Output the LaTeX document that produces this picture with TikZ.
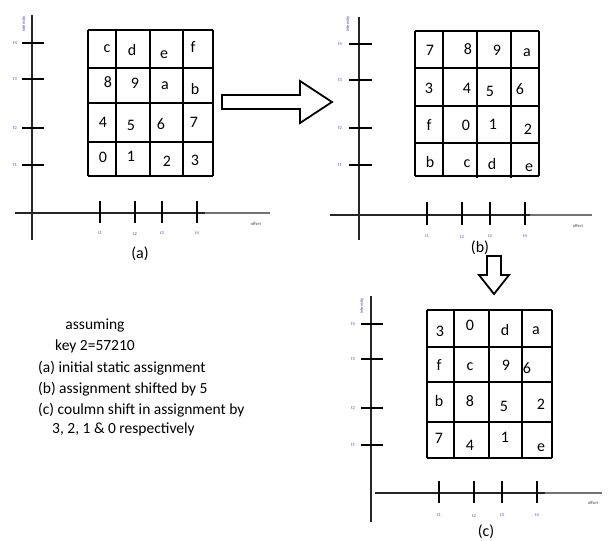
\documentclass[tikz,border=0pt]{standalone}
\usepackage{fontspec}
\setmainfont{Carlito}
\begin{document}
\begin{tikzpicture}[x=1pt,y=-1pt,
  cell/.style={font=\fontsize{16}{16}\selectfont, inner sep=0pt},
  grid/.style={line width=1.1pt, black},
  thk/.style={line width=2.2pt, black},
  ax/.style={line width=1.6pt, black!85},
  axg/.style={line width=1.2pt, black!55},
  tk/.style={line width=1.6pt, black},
  tlab/.style={font=\fontsize{4.5}{5}\selectfont, text=blue!40!gray, inner sep=0pt},
  note/.style={font=\fontsize{15.5}{17}\selectfont, inner sep=0pt, anchor=west},
  captxt/.style={font=\fontsize{16}{16}\selectfont, inner sep=0pt},
  barrow/.style={line width=1.8pt, black, fill=white, line join=miter}]
\useasboundingbox (0,0) rectangle (608,541);

% ---------- panel (a) ----------
\draw[ax] (32,15) -- (32,240);
\draw[ax] (15,213) -- (205,213);
\draw[axg] (205,213) -- (270,213);
\foreach \y/\l in {43/f4,79/f3,128/f2,165/f1}{
  \draw[tk] (22,\y) -- (44,\y);
  \node[tlab] at (15,\y) {\l};
}
\node[tlab, rotate=90] (ia) at (24,24) {intensity};
\foreach \x/\l in {100/t1,162/t3,197/t4}{
  \draw[tk] (\x,201) -- (\x,223);
  \node[tlab] at (\x,233) {\l};
}
\draw[tk] (135,201) -- (135,223);
\draw[line width=2.4pt] (135,201) -- (135,212);
\node[tlab] at (135,234) {t2};
\node[tlab, text=black!70] (oa) at (256,224) {offset};
\node[captxt] (ca) at (140,254) {(a)};
% grid a
\foreach \x in {88,116,150,183,213} \draw[grid] (\x,30) -- (\x,176);
\foreach \y in {30,103,142,176} \draw[grid] (88,\y) -- (213,\y);
\draw[thk] (88,68) -- (213,68);
\foreach \t/\x/\y/\n in {c/107/49/a1,d/132/50/a2,e/164/55/a3,f/193/47/a4,
  8/108/82/a5,9/135/83/a6,a/165/86/a7,b/195/89/a8,
  4/103/122/a9,5/131/125/a10,6/161/124/a11,7/194/122/a12,
  0/103/157/a13,1/131/156/a14,2/167/161/a15,3/195/160/a16}
  \node[cell] (\n) at (\x,\y) {\t};

% ---------- arrow a -> b ----------
\draw[barrow] (222,95) -- (300,95) -- (300,81) -- (332,102) -- (300,123) -- (300,109) -- (222,109) -- cycle;

% ---------- panel (b) ----------
\draw[ax] (359,17) -- (359,240);
\draw[ax] (330,215) -- (530,215);
\draw[axg] (530,215) -- (592,215);
\foreach \y/\l in {44/f4,80/f3,128/f2,165/f1}{
  \draw[tk] (349,\y) -- (372,\y);
  \node[tlab] at (340,\y) {\l};
}
\node[tlab, rotate=90] (ib) at (348,24) {intensity};
\foreach \x/\l in {427/t1,490/t3,525/t4}{
  \draw[tk] (\x,202) -- (\x,225);
  \node[tlab] at (\x,236) {\l};
}
\draw[tk] (462,202) -- (462,225);
\draw[line width=2.4pt] (462,202) -- (462,214);
\node[tlab] at (462,237) {t2};
\node[tlab, text=black!70] (ob) at (578,226) {offset};
\node[captxt] (cb) at (480,248) {(b)};
% grid b
\foreach \x in {415,443,539} \draw[grid] (\x,31) -- (\x,176);
\foreach \x in {477,511} \draw[thk] (\x,31) -- (\x,178);
\foreach \y in {31,68,106,143,176} \draw[grid] (415,\y) -- (539,\y);
\foreach \t/\x/\y/\n in {7/430/50/b1,8/468/49/b2,9/497/50/b3,a/527/53/b4,
  3/429/88/b5,4/467/88/b6,5/490/91/b7,6/520/89/b8,
  f/429/125/b9,0/466/125/b10,1/493/124/b11,2/528/129/b12,
  b/430/162/b13,c/467/164/b14,d/492/164/b15,e/529/168/b16}
  \node[cell] (\n) at (\x,\y) {\t};

% ---------- arrow b -> c ----------
\draw[barrow] (487,256) -- (501,256) -- (501,275) -- (509,275) -- (494,294) -- (479,275) -- (487,275) -- cycle;

% ---------- panel (c) ----------
\draw[ax] (371,296) -- (371,522);
\draw[ax] (375,493) -- (545,493);
\draw[axg] (545,493) -- (602,493);
\foreach \y/\l in {324/f4,359/f3,408/f2,445/f1}{
  \draw[tk] (361,\y) -- (383,\y);
  \node[tlab] at (353,\y) {\l};
}
\node[tlab, rotate=90] (ic) at (362,306) {intensity};
\foreach \x/\l in {439/t1,502/t3,537/t4}{
  \draw[tk] (\x,481) -- (\x,503);
  \node[tlab] at (\x,515) {\l};
}
\draw[tk] (474,481) -- (474,503);
\draw[line width=2.4pt] (474,481) -- (474,492);
\node[tlab] at (474,516) {t2};
\node[tlab, text=black!70] (oc) at (593,503) {offset};
\node[captxt] (cc) at (486,532) {(c)};
% grid c
\foreach \x in {427,454,489,522,552} \draw[grid] (\x,310) -- (\x,458);
\foreach \y in {310,458} \draw[grid] (427,\y) -- (552,\y);
\foreach \y in {347,382,422} \draw[thk] (427,\y) -- (552,\y);
\foreach \t/\x/\y/\n in {3/440/331/c1,0/470/325/c2,d/505/330/c3,a/536/331/c4,
  f/439/365/c5,c/470/367/c6,9/506/365/c7,6/527/368/c8,
  b/439/401/c9,8/470/401/c10,5/504/406/c11,2/541/404/c12,
  7/439/438/c13,4/470/445/c14,1/505/437/c15,e/541/448/c16}
  \node[cell] (\n) at (\x,\y) {\t};

% ---------- notes ----------
\node[inner sep=0pt, font=\fontsize{15.5}{17}\selectfont] (n1) at (95,325) {assuming};
\node[inner sep=0pt, font=\fontsize{15.5}{17}\selectfont] (n2) at (95,346) {key 2=57210};
\node[note] (n3) at (38,368) {(a) initial static assignment};
\node[note] (n4) at (38,389) {(b) assignment shifted by 5};
\node[note] (n5) at (38,410) {(c) coulmn shift in assignment by};
\node[note] (n6) at (52,429) {3, 2, 1 \& 0 respectively};
\end{tikzpicture}
\end{document}
